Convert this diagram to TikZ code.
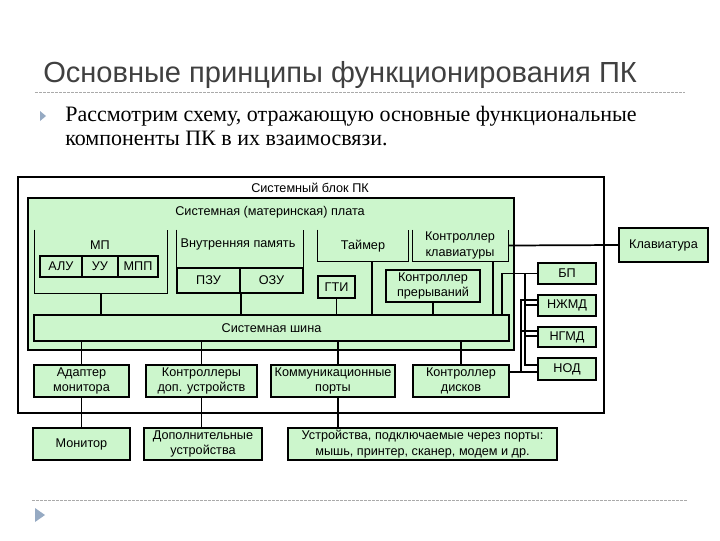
\documentclass[tikz,border=0pt]{standalone}
\usepackage{fontspec}
\setmainfont{Liberation Serif}
\newfontfamily\arialf{Liberation Sans}
\definecolor{boxgreen}{RGB}{204,246,204}
\definecolor{titlegray}{RGB}{64,64,64}
\definecolor{dashgray}{RGB}{170,170,170}
\definecolor{bulletc}{RGB}{150,170,195}
\newcommand\lblf{\arialf\fontsize{9.5}{11.6}\selectfont}
\begin{document}
\begin{tikzpicture}[x=0.75pt,y=-0.75pt,
  sz/.style 2 args={minimum width=#1*0.75pt, minimum height=#2*0.75pt},
  gbox/.style={draw=black, line width=1.1pt, fill=boxgreen, inner sep=0pt, font=\lblf, align=center},
  frame/.style={inner sep=0pt},
  bline/.style={line width=1.1pt},
  lbl/.style={inner sep=0pt, font=\lblf, align=center},
  conn/.style={line width=1.3pt},
  dashline/.style={draw=dashgray, line width=0.6pt, dash pattern=on 2pt off 1pt}]
\useasboundingbox[fill=white] (0,0) rectangle (720,540);

% heading
\node[anchor=base west, inner sep=0pt, text=titlegray, font=\arialf\fontsize{21.8}{24}\selectfont] (title) at (43,82) {Основные принципы функционирования ПК};
\draw[dashline] (35,92) -- (685,92);
\fill[bulletc] (40,111) -- (46,116) -- (40,121) -- cycle;
\node[anchor=base west, inner sep=0pt, align=left, font=\fontsize{16.5}{17.4}\selectfont] (body) at (65,145) {Рассмотрим схему, отражающую основные функциональные\\компоненты ПК в их взаимосвязи.};
\draw[dashline] (32,500) -- (687,500);
\fill[bulletc] (35,508) -- (45,515) -- (35,522) -- cycle;

% system block
\node[draw=black, line width=1.8pt, fill=white, sz={586}{236}, frame] (sysblock) at (311,295) {};
\node[lbl] (sysblockt) at (310,188) {Системный блок ПК};
\node[draw=black, line width=1.6pt, fill=boxgreen, sz={486}{152}, frame] (mb) at (271,274) {};
\node[lbl] (mbt) at (270,212) {Системная (материнская) плата};

% MP
\node[frame, sz={132}{63}] (mp) at (101,261.5) {};
\draw[bline] (mp.north west) |- (mp.south east) -- (mp.north east);
\node[lbl] (mpt) at (100,245) {МП};
\node[gbox, sz={42}{21}] (alu) at (61,266.5) {АЛУ};
\node[gbox, sz={36}{21}] (uu) at (100,266.5) {УУ};
\node[gbox, sz={40}{21}] (mpp) at (138,266.5) {МПП};

% memory
\node[frame, sz={126}{63}] (mem) at (240,261.5) {};
\draw[bline] (mem.north west) |- (mem.south east) -- (mem.north east);
\node[lbl] (memt) at (238,244) {Внутренняя память};
\node[gbox, sz={63}{25}] (pzu) at (208.5,280.5) {ПЗУ};
\node[gbox, sz={63}{25}] (ozu) at (271.5,280.5) {ОЗУ};

% timer, keyboard controller
\node[frame, sz={90}{31}] (tmr) at (363,245.5) {};
\draw[bline] (tmr.north west) |- (tmr.south east) -- (tmr.north east);
\node[lbl] (tmrt) at (363,246) {Таймер};
\node[frame, sz={95}{31}] (kbc) at (460.5,245.5) {};
\draw[bline] (kbc.north west) |- (kbc.south east) -- (kbc.north east);
\node[lbl] (kbct) at (460,245.5) {Контроллер\\клавиатуры};

\node[gbox, sz={37}{22}] (gti) at (336.5,287) {ГТИ};
\node[gbox, sz={94}{32}] (irq) at (433,286) {Контроллер\\прерываний};

% bus
\node[gbox, sz={475}{26}] (bus) at (271.5,328) {Системная шина};

% right side
\node[gbox, sz={58}{21}] (bp) at (567,273.5) {БП};
\node[gbox, sz={58}{21}] (njmd) at (567,305.5) {НЖМД};
\node[gbox, sz={58}{20}] (ngmd) at (567,337) {НГМД};
\node[gbox, sz={58}{22}] (nod) at (567,369) {НОД};
\node[gbox, sz={89}{34}] (kbd) at (663.5,245) {Клавиатура};

% lower row
\node[gbox, sz={95}{32}] (adp) at (81.5,381) {Адаптер\\монитора};
\node[gbox, sz={111}{32}] (ctl) at (201.5,381) {Контроллеры\\доп. устройств};
\node[gbox, sz={124}{32}] (com) at (333,381) {Коммуникационные\\порты};
\node[gbox, sz={96}{32}] (dsk) at (461,381) {Контроллер\\дисков};

\node[gbox, sz={97}{32}] (mon) at (81.5,444) {Монитор};
\node[gbox, sz={118}{32}] (dop) at (203,444) {Дополнительные\\устройства};
\node[gbox, sz={269}{32}] (ust) at (422.5,444) {Устройства, подключаемые через порты:\\мышь, принтер, сканер, модем и др.};

% connectors to bus
\coordinate (tmrout) at (372,261);
\coordinate (kbcout) at (493,261);
\coordinate (xB) at (502,0);
\coordinate (comx) at (338,0);
\draw[conn] (mp.south) -- (mp.south |- bus.north);
\draw[conn] (pzu.south east) -- (pzu.south east |- bus.north);
\draw[conn] (gti.south) -- (gti.south |- bus.north);
\draw[conn] (tmrout) -- (tmrout |- bus.north);
\draw[conn] (irq.south) -- (irq.south |- bus.north);
\draw[conn] (kbcout) -- (kbcout |- bus.north);
\draw[conn] (bp.west) -- (bp.west -| xB) -- (xB |- bus.north);
\draw[conn] (kbc.east) -- (kbd.west);

\draw[conn] (adp.north |- bus.south) -- (adp.north);
\draw[conn] (ctl.north |- bus.south) -- (ctl.north);
\draw[conn] (comx |- bus.south) -- (comx |- com.north);
\draw[conn] (dsk.north |- bus.south) -- (dsk.north);
\draw[conn] (adp.south) -- (mon.north);
\draw[conn] (ctl.south) -- (ctl.south |- dop.north);
\draw[conn] (comx |- com.south) -- (comx |- ust.north);

% drives
\coordinate (jB0) at (525,273.5);
\coordinate (jB1) at (525,305);
\coordinate (jB2) at (525,336);
\coordinate (jB3) at (525,365);
\coordinate (jC0) at (521,300);
\coordinate (jC1) at (521,331);
\coordinate (jC2) at (521,372);
\draw[conn] (jB0) -- (jB3) -- (jB3 -| nod.west);
\draw[conn] (jB1) -- (jB1 -| njmd.west);
\draw[conn] (jB2) -- (jB2 -| ngmd.west);
\draw[conn] (jC0 -| njmd.west) -- (jC0) -- (jC2);
\draw[conn] (jC1) -- (jC1 -| ngmd.west);
\draw[conn] (dsk.east |- jC2) -- (jC2 -| nod.west);
\end{tikzpicture}
\end{document}
